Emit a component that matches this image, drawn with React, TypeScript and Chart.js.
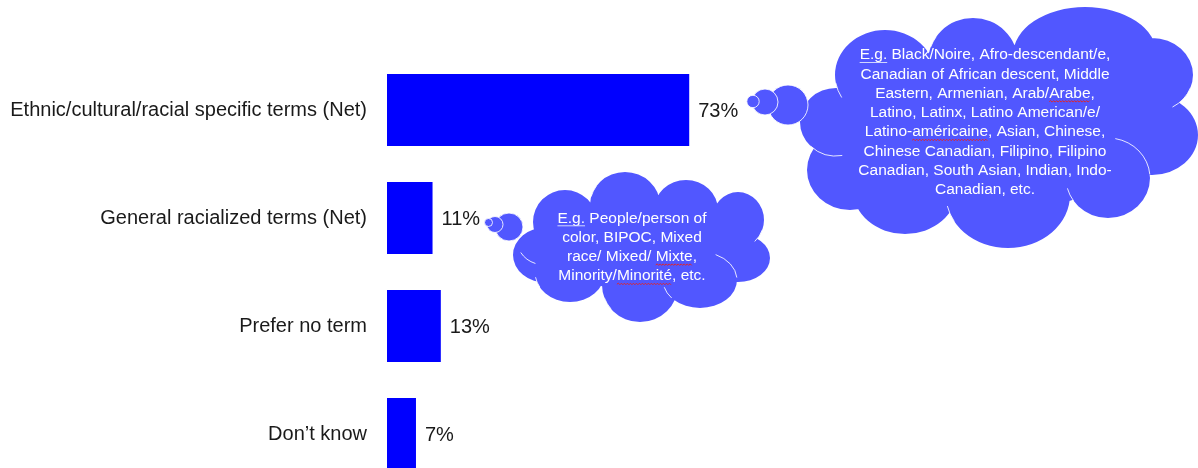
import React, { useEffect, useRef } from 'react';
import { Chart, registerables } from 'chart.js';

Chart.register(...registerables);

// ---------- data ----------
const categories: string[] = [
  'Ethnic/cultural/racial specific terms (Net)',
  'General racialized terms (Net)',
  'Prefer no term',
  'Don\u2019t know',
];
const shares: number[] = [73, 11, 13, 7];
const axisMin = 0;
const axisMax = 100;

// ---------- styling ----------
const FONT = '"Liberation Sans", Arial, Helvetica, sans-serif';
const BAR_COLOR = '#0000FF';
const CLOUD_COLOR = '#5157FF';
const TEXT_COLOR = '#1a1a1a';
const CANVAS_W = 1198;
const CANVAS_H = 488;

type Seg = { t: string; d?: 'u' | 'sq' };

const bigCloudLines: Seg[][] = [
  [{ t: 'E.g.', d: 'u' }, { t: ' Black/Noire, Afro-descendant/e,' }],
  [{ t: 'Canadian of African descent, Middle' }],
  [{ t: 'Eastern, Armenian, Arab/' }, { t: 'Arabe', d: 'sq' }, { t: ',' }],
  [{ t: 'Latino, Latinx, Latino American/e/' }],
  [{ t: 'Latino-' }, { t: 'américaine', d: 'sq' }, { t: ', Asian, Chinese,' }],
  [{ t: 'Chinese Canadian, Filipino, Filipino' }],
  [{ t: 'Canadian, South Asian, Indian, Indo-' }],
  [{ t: 'Canadian, etc.' }],
];

const smallCloudLines: Seg[][] = [
  [{ t: 'E.g.', d: 'u' }, { t: ' People/person of' }],
  [{ t: 'color, BIPOC, Mixed' }],
  [{ t: 'race/ Mixed/ ' }, { t: 'Mixte', d: 'sq' }, { t: ',' }],
  [{ t: 'Minority/' }, { t: 'Minorité', d: 'sq' }, { t: ', etc.' }],
];

type Ell = [number, number, number, number];
type Arc = [number, number, number, number, number, number];
type Bub = [number, number, number];

interface CloudShape {
  lobes: Ell[];
  arcs: Arc[];
  bubbles: Bub[];
  lines: Seg[][];
  textX: number;
  textY: number;
  lineH: number;
}

const bigCloud: CloudShape = {
  lobes: [
    [1000, 130, 150, 80],
    [836, 122, 36, 34],
    [850, 170, 43, 40],
    [885, 75, 50, 45],
    [973, 62, 45, 44],
    [1085, 55, 72, 48],
    [1152, 75, 41, 37],
    [1152, 135, 46, 40],
    [1108, 178, 42, 40],
    [1008, 195, 62, 53],
    [905, 190, 52, 44],
  ],
  arcs: [
    [836, 122, 36, 34, 80, 135],
    [885, 75, 50, 45, 150, 170],
    [1108, 178, 42, 40, -80, -5],
    [1152, 75, 41, 37, 20, 60],
    [1008, 195, 62, 53, 150, 168],
    [1108, 178, 42, 40, 145, 165],
    [973, 62, 45, 44, 200, 215],
  ],
  bubbles: [
    [788, 105, 20],
    [765, 102, 13],
    [753, 101.5, 6.2],
  ],
  lines: bigCloudLines,
  textX: 985,
  textY: 55,
  lineH: 19.3,
};

const smallCloud: CloudShape = {
  lobes: [
    [640, 245, 95, 45],
    [565, 222, 32, 32],
    [625, 205, 35, 33],
    [686, 210, 32, 30],
    [738, 220, 26, 28],
    [738, 258, 32, 24],
    [700, 280, 37, 28],
    [640, 285, 38, 37],
    [570, 272, 35, 30],
    [547, 255, 34, 28],
  ],
  arcs: [
    [738, 220, 26, 28, 20, 50],
    [700, 280, 37, 28, -65, -5],
    [545, 240, 28, 25, 110, 150],
    [640, 285, 38, 37, 140, 160],
    [700, 280, 37, 28, 140, 165],
    [570, 272, 35, 30, 150, 170],
    [625, 205, 35, 33, 195, 215],
  ],
  bubbles: [
    [509, 227, 14],
    [495, 224.5, 8],
    [488.5, 222.5, 4],
  ],
  lines: smallCloudLines,
  textX: 632,
  textY: 218.3,
  lineH: 19.3,
};

function drawCloud(ctx: CanvasRenderingContext2D, c: CloudShape) {
  ctx.save();
  ctx.fillStyle = CLOUD_COLOR;
  ctx.beginPath();
  for (const [cx, cy, rx, ry] of c.lobes) {
    ctx.moveTo(cx + rx, cy);
    ctx.ellipse(cx, cy, rx, ry, 0, 0, Math.PI * 2);
  }
  ctx.fill();

  ctx.strokeStyle = 'rgba(255,255,255,0.85)';
  ctx.lineWidth = 1;
  for (const [cx, cy, rx, ry, a0, a1] of c.arcs) {
    ctx.beginPath();
    ctx.ellipse(cx, cy, rx, ry, 0, (a0 * Math.PI) / 180, (a1 * Math.PI) / 180);
    ctx.stroke();
  }
  for (const [cx, cy, r] of c.bubbles) {
    ctx.beginPath();
    ctx.arc(cx, cy, r, 0, Math.PI * 2);
    ctx.fillStyle = CLOUD_COLOR;
    ctx.fill();
    ctx.stroke();
  }

  ctx.font = `15.5px ${FONT}`;
  ctx.textBaseline = 'middle';
  ctx.textAlign = 'left';
  c.lines.forEach((segs, i) => {
    const y = c.textY + i * c.lineH;
    const total = segs.reduce((s, g) => s + ctx.measureText(g.t).width, 0);
    let x = c.textX - total / 2;
    for (const g of segs) {
      const w = ctx.measureText(g.t).width;
      ctx.fillStyle = '#ffffff';
      ctx.fillText(g.t, x, y);
      if (g.d === 'u') {
        ctx.strokeStyle = 'rgba(215,220,255,0.95)';
        ctx.lineWidth = 1;
        ctx.beginPath();
        ctx.moveTo(x, y + 7.5);
        ctx.lineTo(x + w, y + 7.5);
        ctx.stroke();
      } else if (g.d === 'sq') {
        ctx.strokeStyle = '#e0262a';
        ctx.lineWidth = 1;
        ctx.beginPath();
        let up = true;
        ctx.moveTo(x, y + 8);
        for (let px = x + 1.5; px <= x + w; px += 1.5) {
          ctx.lineTo(px, y + (up ? 7 : 8.5));
          up = !up;
        }
        ctx.stroke();
      }
      x += w;
    }
  });
  ctx.restore();
}

const valueLabelPlugin = {
  id: 'valueLabels',
  afterDatasetsDraw(chart: any) {
    const ctx: CanvasRenderingContext2D = chart.ctx;
    const meta = chart.getDatasetMeta(0);
    ctx.save();
    ctx.font = `20px ${FONT}`;
    ctx.fillStyle = TEXT_COLOR;
    ctx.textAlign = 'left';
    ctx.textBaseline = 'middle';
    meta.data.forEach((bar: any, i: number) => {
      ctx.fillText(`${shares[i]}%`, bar.x + 9, bar.y + 1);
    });
    ctx.restore();
  },
};

const cloudPlugin = {
  id: 'clouds',
  afterDraw(chart: any) {
    drawCloud(chart.ctx, bigCloud);
    drawCloud(chart.ctx, smallCloud);
  },
};

export default function App() {
  const ref = useRef<HTMLCanvasElement | null>(null);

  useEffect(() => {
    if (!ref.current) return;
    const chart = new Chart(ref.current, {
      type: 'bar',
      data: {
        labels: categories,
        datasets: [
          {
            data: shares,
            backgroundColor: BAR_COLOR,
            borderWidth: 0,
            categoryPercentage: 1,
            barPercentage: 72 / 108,
          },
        ],
      },
      options: {
        indexAxis: 'y',
        animation: false,
        responsive: false,
        devicePixelRatio: 1,
        layout: { padding: { top: 56, right: 397, bottom: 0, left: 0 } },
        plugins: {
          legend: { display: false },
          tooltip: { enabled: false },
        },
        scales: {
          x: { display: false, min: axisMin, max: axisMax },
          y: {
            grid: { display: false, drawTicks: false },
            border: { display: false },
            ticks: {
              color: TEXT_COLOR,
              font: { family: FONT, size: 20 },
              padding: 20,
            },
            afterFit: (s: any) => {
              s.width = 387;
              s.paddingTop = 0;
              s.paddingBottom = 0;
            },
          },
        },
      },
      plugins: [valueLabelPlugin, cloudPlugin],
    } as any);
    return () => chart.destroy();
  }, []);

  return (
    <div
      style={{
        position: 'fixed',
        left: 0,
        top: 0,
        width: CANVAS_W,
        height: 468,
        overflow: 'hidden',
        background: '#ffffff',
      }}
    >
      <canvas
        ref={ref}
        width={CANVAS_W}
        height={CANVAS_H}
        style={{ display: 'block', width: CANVAS_W, height: CANVAS_H }}
      />
    </div>
  );
}
